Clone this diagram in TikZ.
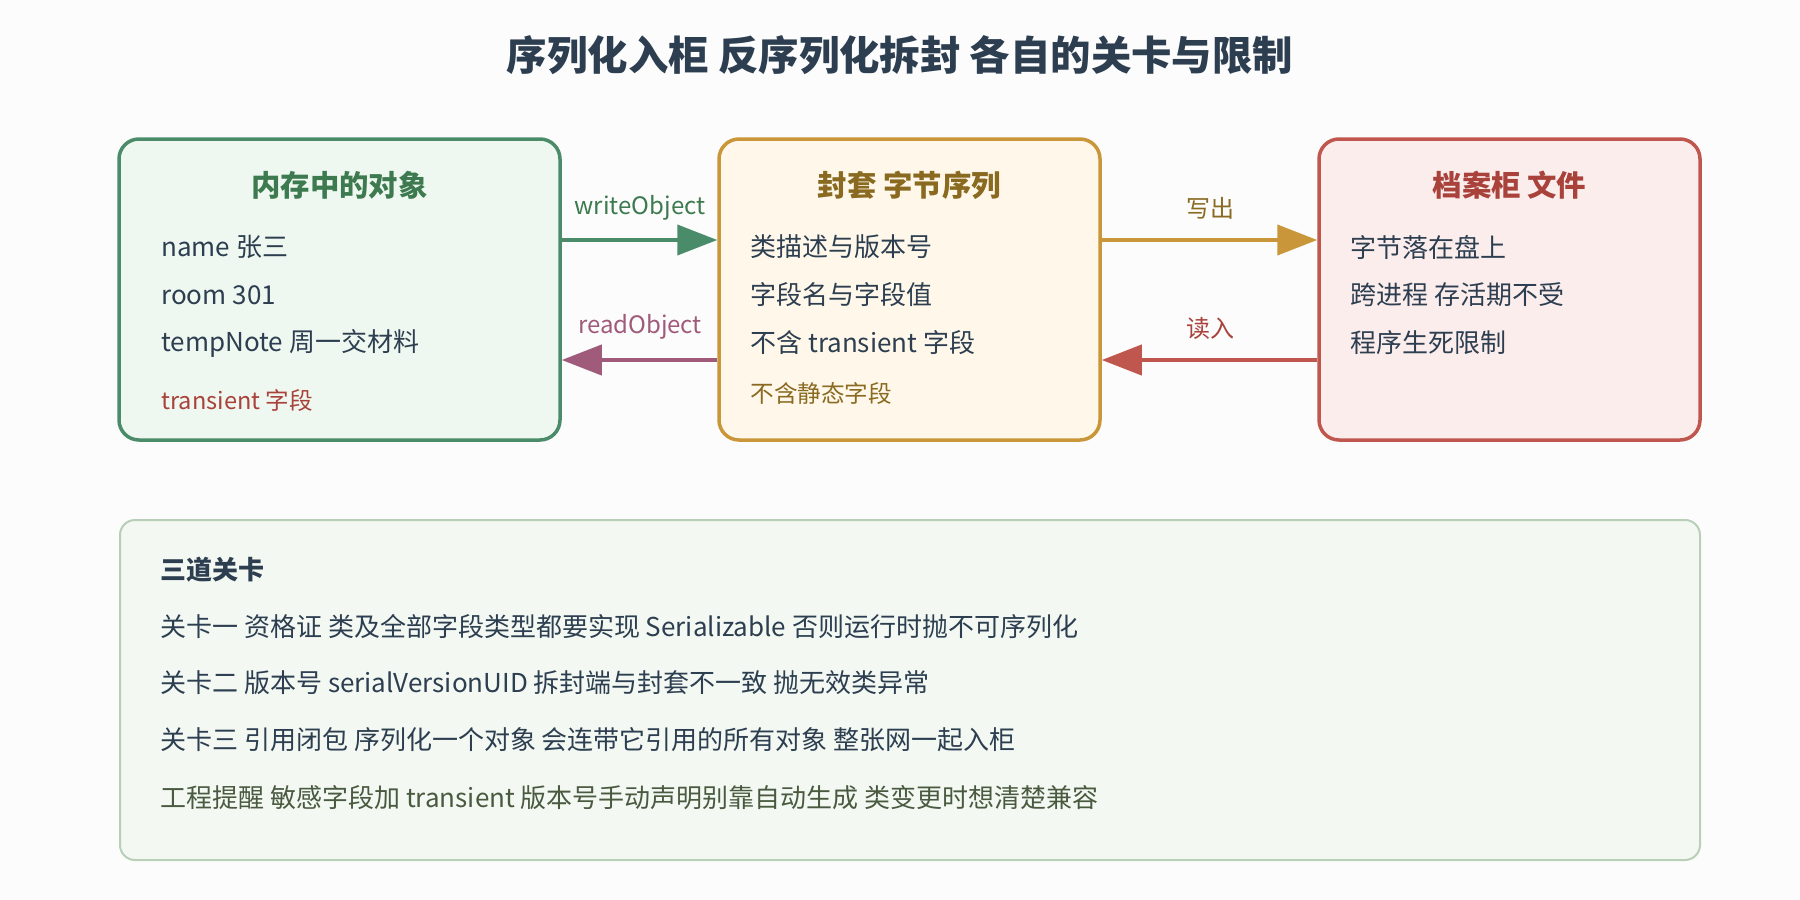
\documentclass[tikz,border=0pt]{standalone}
\usepackage{fontspec}
\setmainfont{Noto Sans CJK SC}
\usetikzlibrary{arrows.meta}
\definecolor{ink}{HTML}{2C3E50}
\definecolor{gborder}{HTML}{4A8C6A}
\definecolor{gfill}{HTML}{EFF8F0}
\definecolor{gtext}{HTML}{3D7A50}
\definecolor{yborder}{HTML}{C9963A}
\definecolor{yfill}{HTML}{FFF8EA}
\definecolor{ytext}{HTML}{8A6A20}
\definecolor{rborder}{HTML}{C0574F}
\definecolor{rfill}{HTML}{FCEDED}
\definecolor{rtext}{HTML}{A8423A}
\definecolor{purp}{HTML}{A05A7A}
\definecolor{pborder}{HTML}{B8CFB8}
\definecolor{pfill}{HTML}{F3F8F2}
\definecolor{olive}{HTML}{4A5A40}
\definecolor{bg}{HTML}{FCFCFC}
\tikzset{
  card/.style={draw, line width=1.75pt, rounded corners=10pt, minimum height=150.5pt, inner sep=0pt},
  boxtitle/.style={font=\bfseries\fontsize{14.7pt}{17pt}\selectfont, inner sep=0pt},
  body/.style={font=\fontsize{13pt}{16pt}\selectfont, text=ink, anchor=west, inner sep=0pt},
  small/.style={font=\fontsize{11.8pt}{14pt}\selectfont, anchor=west, inner sep=0pt},
  lbl/.style={font=\fontsize{12pt}{14pt}\selectfont, inner sep=0pt},
  conn/.style={line width=2pt, -{Triangle[length=20pt,width=15pt]}},
}
\begin{document}
\begin{tikzpicture}[x=0.5pt,y=-0.5pt]
\fill[bg] (0,0) rectangle (1800,900);
\path[use as bounding box] (0,0) rectangle (1800,900);

\node[font=\bfseries\fontsize{20.2pt}{24pt}\selectfont, text=ink, inner sep=0pt] (title) at (900,55) {序列化入柜 反序列化拆封 各自的关卡与限制};

% cards
\node[card, draw=gborder, fill=gfill, minimum width=220.5pt] (b1) at (339.5,289.5) {};
\node[card, draw=yborder, fill=yfill, minimum width=190.5pt] (b2) at (909.5,289.5) {};
\node[card, draw=rborder, fill=rfill, minimum width=190.5pt] (b3) at (1509.5,289.5) {};

\node[boxtitle, text=gtext] (t1) at (339.5,185) {内存中的对象};
\node[body] (l11) at (161,247) {name 张三};
\node[body] (l12) at (161,295) {room 301};
\node[body] (l13) at (161,343) {tempNote 周一交材料};
\node[small, text=rtext] (l14) at (161,400) {transient 字段};

\node[boxtitle, text=ytext] (t2) at (909.5,185) {封套 字节序列};
\node[body] (l21) at (750,247) {类描述与版本号};
\node[body] (l22) at (750,295) {字段名与字段值};
\node[body] (l23) at (750,343) {不含 transient 字段};
\node[small, text=ytext] (l24) at (750,393) {不含静态字段};

\node[boxtitle, text=rtext] (t3) at (1509.5,185) {档案柜 文件};
\node[body] (l31) at (1350,247) {字节落在盘上};
\node[body] (l32) at (1350,295) {跨进程 存活期不受};
\node[body] (l33) at (1350,343) {程序生死限制};

% connectors
\draw[conn, gborder] (b1.east |- 0,240) -- (b2.west |- 0,240);
\draw[conn, purp] (b2.west |- 0,360) -- (b1.east |- 0,360);
\draw[conn, yborder] (b2.east |- 0,240) -- (b3.west |- 0,240);
\draw[conn, rborder] (b3.west |- 0,360) -- (b2.east |- 0,360);

\node[lbl, text=gtext] (a1) at (640,208) {writeObject};
\node[lbl, text=purp] (a2) at (640,327) {readObject};
\node[lbl, text=ytext] (a3) at (1210,208) {写出};
\node[lbl, text=rtext] (a4) at (1210,328) {读入};

% panel
\node[draw=pborder, fill=pfill, line width=1pt, rounded corners=7.5pt, minimum width=790pt, minimum height=170pt, inner sep=0pt] (panel) at (910,690) {};
\node[font=\bfseries\fontsize{13pt}{16pt}\selectfont, text=ink, anchor=west, inner sep=0pt] (pt) at (160,570) {三道关卡};
\node[body] (p1) at (160,627) {关卡一 资格证 类及全部字段类型都要实现 Serializable 否则运行时抛不可序列化};
\node[body] (p2) at (160,683) {关卡二 版本号 serialVersionUID 拆封端与封套不一致 抛无效类异常};
\node[body] (p3) at (160,740) {关卡三 引用闭包 序列化一个对象 会连带它引用的所有对象 整张网一起入柜};
\node[body, text=olive] (p4) at (160,798) {工程提醒 敏感字段加 transient 版本号手动声明别靠自动生成 类变更时想清楚兼容};
\end{tikzpicture}
\end{document}
